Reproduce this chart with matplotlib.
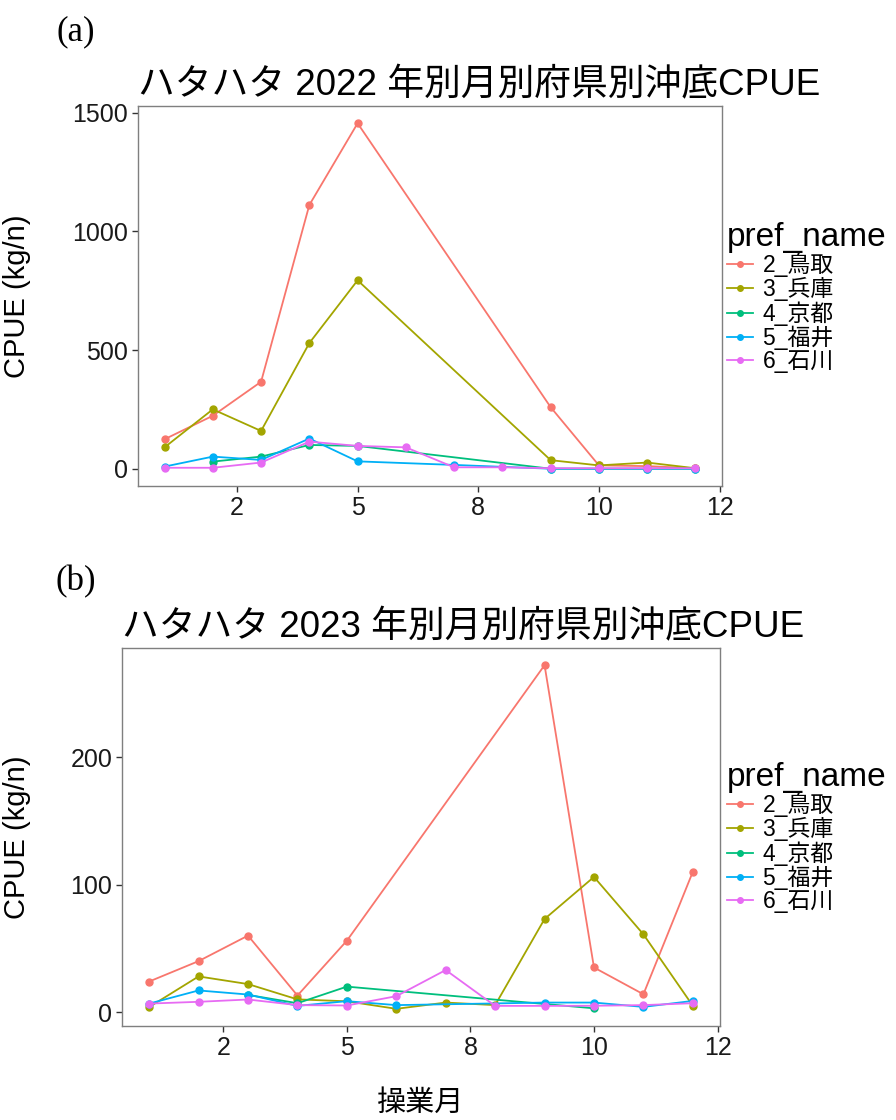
"""Monthly offshore trawl CPUE by prefecture, two years stacked."""
import numpy as np
import matplotlib

matplotlib.use("Agg")
import matplotlib.pyplot as plt

plt.rcParams["font.family"] = ["Liberation Sans", "Noto Sans CJK JP", "DejaVu Sans"]

nan = np.nan
months = [1, 2, 3, 4, 5, 6, 7, 8, 9, 10, 11, 12]
pref_names = ["2_鳥取", "3_兵庫", "4_京都", "5_福井", "6_石川"]
pref_colors = ["#F8766D", "#A3A500", "#00BF7D", "#00B0F6", "#E76BF3"]

# 2022
tottori_22 = [125, 224, 367, 1111, 1455, nan, nan, nan, 260, 15, 12, 3]
hyogo_22 = [91, 251, 160, 530, 794, nan, nan, nan, 37, 15, 27, 3]
kyoto_22 = [nan, 31, 52, 101, 97, nan, nan, nan, 1, 1, 1, 1]
fukui_22 = [10, 52, 38, 128, 32, nan, 17, nan, 1, 1, 1, 1]
ishikawa_22 = [5, 5, 27, 115, 97, 91, 7, 7, 3, 3, 3, 3]
yticks_22 = [0, 500, 1000, 1500]

# 2023
tottori_23 = [24, 40, 60, 13, 56, nan, nan, nan, 272, 35, 14, 110]
hyogo_23 = [4, 28, 22, 10, 8.5, 2.6, 7.5, 5.5, 73, 106, 61, 5]
kyoto_23 = [nan, nan, 13.5, 7, 20, nan, nan, nan, nan, 3, nan, nan]
fukui_23 = [6.7, 17, 13.8, 4.9, 8.6, 5.5, nan, nan, 7.5, 7.5, 4.1, 8.8]
ishikawa_23 = [6.7, 8.1, 9.9, 5.5, 5.2, 12.5, 33, 4.9, 4.9, 5, 5.5, 7]
yticks_23 = [0, 100, 200]

xtick_pos = [2.5, 5, 7.5, 10, 12.5]
xtick_labels = ["2", "5", "8", "10", "12"]

W, H = 896, 1120


def px_box(left, top, right, bottom):
    """Axes rectangle from pixel edges."""
    return [left / W, 1 - bottom / H, (right - left) / W, (bottom - top) / H]


def draw_panel(fig, box, series, yticks, title, tag, tag_y, legend_top, show_xlabel):
    ax = fig.add_axes(box)
    x = np.array(months, dtype=float)
    allv = []
    for vals, name, col in zip(series, pref_names, pref_colors):
        v = np.array(vals, dtype=float)
        ok = np.isfinite(v)
        allv.extend(v[ok])
        ax.plot(x[ok], v[ok], color=col, lw=1.3, marker="o", ms=5,
                mec=col, mfc=col, label=name, zorder=3)

    lo, hi = min(allv), max(allv)
    pad = 0.05 * (hi - lo)
    ax.set_ylim(lo - pad, hi + pad)
    ax.set_yticks(yticks)
    ax.set_xlim(1 - 0.05 * 11, 12 + 0.05 * 11)
    ax.set_xticks(xtick_pos)
    ax.set_xticklabels(xtick_labels)

    for s in ax.spines.values():
        s.set_color("#7f7f7f")
        s.set_linewidth(1.0)
    ax.tick_params(length=4, width=1.0, color="#333333", labelsize=18,
                   labelcolor="#1a1a1a", pad=3)

    ax.set_title(title, loc="left", fontsize=26.5, pad=8, color="black")
    ax.set_ylabel("CPUE (kg/n)", fontsize=21)
    ax.yaxis.set_label_coords((31 - box[0] * W) / (box[2] * W), 0.5)

    fig.text(76 / W, 1 - tag_y / H, tag, family="Liberation Serif",
             fontsize=25, ha="center", va="center")

    leg = fig.legend(*ax.get_legend_handles_labels(), loc="upper left",
                     bbox_to_anchor=(727 / W, 1 - legend_top / H),
                     frameon=False, fontsize=16.5, title="pref_name",
                     title_fontsize=24, alignment="left", handlelength=1.15,
                     handletextpad=0.4, labelspacing=0.0, borderpad=0,
                     borderaxespad=0)
    for h in leg.legend_handles:
        h.set_markersize(4)

    if show_xlabel:
        fig.text(421 / W, 1 - 1103 / H, "操業月", fontsize=21,
                 ha="center", va="center")
    return ax


fig = plt.figure(figsize=(W / 100, H / 100), dpi=100)

draw_panel(fig, px_box(138, 106, 722, 486),
           [tottori_22, hyogo_22, kyoto_22, fukui_22, ishikawa_22], yticks_22,
           "ハタハタ 2022 年別月別府県別沖底CPUE", "(a)", 32, 222, False)
draw_panel(fig, px_box(122, 648, 720, 1026),
           [tottori_23, hyogo_23, kyoto_23, fukui_23, ishikawa_23], yticks_23,
           "ハタハタ 2023 年別月別府県別沖底CPUE", "(b)", 582, 762, True)

fig.savefig("out.png", dpi=100, facecolor="white")
